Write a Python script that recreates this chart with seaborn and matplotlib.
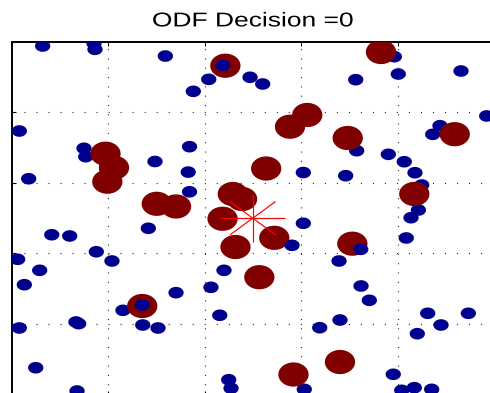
import numpy as np
import pandas as pd
import matplotlib
matplotlib.use("Agg")
import matplotlib.pyplot as plt
from matplotlib.path import Path
from matplotlib.patheffects import AbstractPathEffect
from matplotlib.transforms import Affine2D
import seaborn as sns

# ---------------- data ----------------
title_text = "ODF Decision =0"

# blue dots drawn beneath the dark-red circles
blue_x = [0.323, 0.855, 0.865, 1.594, 2.044, 1.884, 2.472, 2.603, 3.567, 3.967,
          4.008, 4.658, 4.924, 4.440, 4.365, 3.577, 3.905, 4.070, 4.181, 3.024,
          3.463, 4.251, 4.216, 4.140, 4.091, 3.024, 3.394, 3.622, 3.708, 4.313,
          4.734, 4.451, 4.205, 3.404, 3.194, 3.956, 4.044, 4.174, 4.354, 3.034,
          0.081, 0.751, 0.769, 0.178, 1.487, 1.845, 1.831, 1.845, 1.418, 0.417,
          0.603, 0.879, 0.064, 1.041, 0.292, 0.133, 2.202, 2.067, 1.705, 1.155,
          2.158, 0.668, 0.696, 0.081, 1.360, 1.518, 0.251, 0.679, 2.251, 2.275]
blue_y = [4.939, 4.977, 4.892, 4.797, 4.467, 4.297, 4.496, 4.401, 4.462, 4.788,
          4.542, 4.585, 3.948, 3.810, 3.688, 3.456, 3.405, 3.300, 3.144, 3.147,
          3.102, 2.970, 2.616, 2.507, 2.220, 2.428, 1.894, 1.540, 1.337, 1.153,
          1.153, 0.987, 0.864, 1.058, 0.949, 0.289, 0.062, 0.099, 0.076, 0.076,
          3.735, 3.490, 3.371, 3.059, 3.303, 3.513, 3.153, 2.874, 2.357, 2.266,
          2.248, 2.025, 1.918, 1.894, 1.762, 1.558, 1.762, 1.521, 1.445, 1.195,
          1.125, 1.030, 1.006, 0.945, 0.987, 0.945, 0.382, 0.052, 0.212, 0.091]

# blue dots drawn on top of the dark-red circles
blue_top_x = [2.189, 1.355, 3.619, 2.907]
blue_top_y = [4.666, 1.271, 2.059, 2.116]

# dark-red (larger) circles
red_x = [2.216, 3.829, 3.065, 2.886, 3.484, 4.593, 0.974, 1.062, 0.993, 2.639,
         1.505, 1.705, 2.293, 2.389, 2.187, 2.321, 2.723, 2.568, 3.532, 4.174,
         1.355, 3.404, 2.922]
red_y = [4.660, 4.854, 3.962, 3.796, 3.636, 3.690, 3.414, 3.215, 3.017, 3.204,
         2.704, 2.666, 2.843, 2.772, 2.492, 2.092, 2.222, 1.664, 2.139, 2.843,
         1.256, 0.463, 0.286]

# query point (red asterisk)
star_x = [2.5]
star_y = [2.5]
star_radius = 0.335

x_ticks = [1, 2, 3, 4]
y_ticks = [1, 2, 3, 4]

# ---------------- styling ----------------
sns.set_theme(style="white")
plt.rcParams["font.family"] = ["Liberation Sans", "DejaVu Sans"]
plt.rcParams["lines.scale_dashes"] = False

BLUE = "#00008F"
DARKRED = "#800000"
STAR = "#FF0000"


class HStretch(AbstractPathEffect):
    """Stretch rendered text horizontally about its centre (the reference
    image is non-uniformly scaled, so its glyphs are wide)."""

    def __init__(self, sx):
        super().__init__()
        self.sx = sx

    def draw_path(self, renderer, gc, tpath, affine, rgbFace=None):
        bb = tpath.get_extents(affine)
        cx = 0.5 * (bb.x0 + bb.x1)
        new_aff = affine + Affine2D().translate(-cx, 0).scale(self.sx, 1).translate(cx, 0)
        renderer.draw_path(gc, tpath, new_aff, rgbFace)


def ellipse_marker(aspect):
    t = np.linspace(0, 2 * np.pi, 73)
    verts = np.column_stack([np.cos(t), aspect * np.sin(t)])
    return Path(verts, closed=True)


blue_marker = ellipse_marker(0.76)
red_marker = ellipse_marker(0.80)

fig = plt.figure(figsize=(4.90, 3.93), dpi=100)
W, H = 490.0, 393.0
left_px, right_px = 11.5, 494.0
top_px, bottom_px = 41.7, 394.7
ax = fig.add_axes([left_px / W, 1 - bottom_px / H,
                   (right_px - left_px) / W, (bottom_px - top_px) / H])

df_blue = pd.DataFrame({"x": blue_x, "y": blue_y})
df_blue_top = pd.DataFrame({"x": blue_top_x, "y": blue_top_y})
df_red = pd.DataFrame({"x": red_x, "y": red_y})

sns.scatterplot(data=df_blue, x="x", y="y", ax=ax, marker=blue_marker, s=121,
                color=BLUE, edgecolor="none", linewidth=0, zorder=3, legend=False)
sns.scatterplot(data=df_red, x="x", y="y", ax=ax, marker=red_marker, s=475,
                color=DARKRED, edgecolor="none", linewidth=0, zorder=4, legend=False)
sns.scatterplot(data=df_blue_top, x="x", y="y", ax=ax, marker=blue_marker, s=121,
                color=BLUE, edgecolor="none", linewidth=0, zorder=5, legend=False)

# asterisk drawn in data coordinates
for cx, cy in zip(star_x, star_y):
    for ang in np.deg2rad([0, 45, 90, 135]):
        dx, dy = star_radius * np.cos(ang), star_radius * np.sin(ang)
        ax.plot([cx - dx, cx + dx], [cy - dy, cy + dy], color=STAR, lw=0.85,
                zorder=6, solid_capstyle="butt")

ax.set_xlim(0, 5)
ax.set_ylim(0, 5)
ax.set_xticks(x_ticks)
ax.set_yticks(y_ticks)
ax.set_xticklabels([])
ax.set_yticklabels([])
ax.set_xlabel("")
ax.set_ylabel("")

ax.set_axisbelow(True)
ax.xaxis.grid(True, color="#222222", linewidth=0.8, linestyle=(0, (0.75, 5.95)))
ax.yaxis.grid(True, color="#222222", linewidth=0.8, linestyle=(0, (0.75, 7.9)))

ax.tick_params(direction="in", length=3, width=0.8, color="black",
               top=True, right=True, bottom=True, left=True)
for sp in ax.spines.values():
    sp.set_visible(True)
    sp.set_color("black")
    sp.set_linewidth(1.4)

title = ax.set_title(title_text, fontsize=14.4, color="black", pad=11)
title.set_path_effects([HStretch(1.32)])

fig.savefig("out.png", dpi=100)
